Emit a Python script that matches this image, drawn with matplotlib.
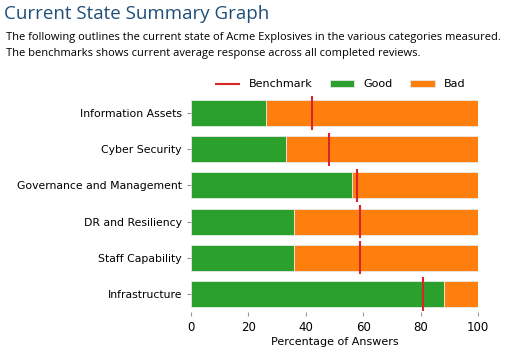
import matplotlib.pyplot as plt
import numpy as np

categories = ['Information Assets', 'Cyber Security', 'Governance and Management',
              'DR and Resiliency', 'Staff Capability', 'Infrastructure']
good = [26, 33, 56, 36, 36, 88]
bad = [74, 67, 44, 64, 64, 12]
benchmark = [42, 48, 58, 59, 59, 81]

fig = plt.figure(figsize=(5.06, 3.58), dpi=100)
fig.text(0.008, 0.985, 'Current State Summary Graph', color='#1f4e79',
         fontsize=13.5, family='Open Sans', va='top')
fig.text(0.012, 0.91, 'The following outlines the current state of Acme Explosives in the various categories measured.\n'
         'The benchmarks shows current average response across all completed reviews.',
         fontsize=8.0, family='Open Sans', va='top', linespacing=1.6)

ax = fig.add_axes([191 / 506, 1 - 312 / 358, 287 / 506, 217 / 358])
y = np.arange(len(categories))
ax.barh(y, good, height=0.72, color='#2ca02c', edgecolor='#e8e8e8', linewidth=0.6, label='Good')
ax.barh(y, bad, left=good, height=0.72, color='#ff7f0e', edgecolor='#e8e8e8', linewidth=0.6, label='Bad')
ax.vlines(benchmark, y - 0.46, y + 0.46, color='#d62728', linewidth=1.5, label='Benchmark')

ax.set_yticks(y)
ax.set_yticklabels(categories, fontsize=7.8)
ax.set_ylim(len(categories) - 0.5, -0.5)
ax.set_xlim(0, 100)
ax.set_xticks(range(0, 101, 20))
ax.tick_params(axis='x', labelsize=8.5, color='#999999', length=3)
ax.tick_params(axis='y', color='#999999', length=3)
ax.set_xlabel('Percentage of Answers', fontsize=8, labelpad=2)
for s in ax.spines.values():
    s.set_visible(False)

h, l = ax.get_legend_handles_labels()
order = [l.index('Benchmark'), l.index('Good'), l.index('Bad')]
ax.legend([h[i] for i in order], [l[i] for i in order], loc='lower center',
          bbox_to_anchor=(0.52, 1.0), ncol=3, frameon=False, fontsize=8,
          handlelength=2.2, columnspacing=1.6, borderaxespad=0.1)

fig.savefig('out.png', dpi=100)
